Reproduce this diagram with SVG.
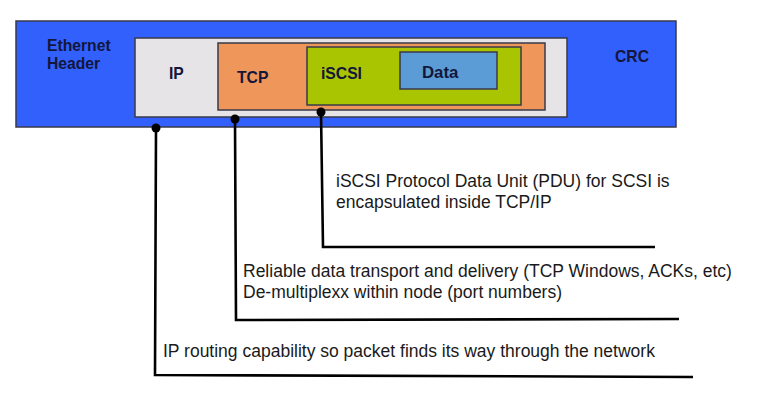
<svg xmlns="http://www.w3.org/2000/svg" width="767" height="413" viewBox="0 0 767 413">
<style>
.box{stroke:#3a3a4a;stroke-width:1.5}
.lbl{font-family:"Liberation Sans",Arial,sans-serif;font-weight:bold;font-size:15.7px;fill:#14163a}
.txt{font-family:"Liberation Sans",Arial,sans-serif;font-size:17.5px;fill:#1a1a1a}
.conn{fill:none;stroke:#000;stroke-width:2.6;stroke-linejoin:miter}
.dot{fill:#000}
</style>
<rect width="767" height="413" fill="#ffffff"/>
<g id="ethernet">
<rect class="box" x="16" y="21" width="660" height="106" fill="#3160fd"/>
<text class="lbl" x="47" y="51">Ethernet</text>
<text class="lbl" x="47" y="69">Header</text>
<text class="lbl" x="615" y="62">CRC</text>
</g>
<g id="ip">
<rect class="box" x="135" y="38" width="432" height="79" fill="#e6e4e6"/>
<text class="lbl" x="169" y="79">IP</text>
</g>
<g id="tcp">
<rect class="box" x="218" y="43" width="327" height="67" fill="#ef975b"/>
<text class="lbl" x="237" y="83">TCP</text>
</g>
<g id="iscsi">
<rect class="box" x="307" y="47" width="214" height="58" fill="#a9c502"/>
<text class="lbl" x="321" y="79">iSCSI</text>
</g>
<g id="data">
<rect class="box" x="400" y="52" width="97" height="37" fill="#5b9bd6"/>
<text class="lbl" x="422" y="78" style="font-size:16.8px">Data</text>
</g>
<g id="connectors">
<circle class="dot" cx="156" cy="128" r="4.5"/>
<polyline class="conn" points="156,128 155,375 693,377"/>
<circle class="dot" cx="235" cy="119" r="4.5"/>
<polyline class="conn" points="235,119 236,320 679,319"/>
<circle class="dot" cx="321" cy="112" r="4.5"/>
<polyline class="conn" points="321,112 323,247 655,247"/>
</g>
<g id="labels">
<text class="txt" x="336" y="187">iSCSI Protocol Data Unit (PDU) for SCSI is</text>
<text class="txt" x="336" y="208">encapsulated inside TCP/IP</text>
<text class="txt" x="243" y="277">Reliable data transport and delivery (TCP Windows, ACKs, etc)</text>
<text class="txt" x="243" y="298">De-multiplexx within node (port numbers)</text>
<text class="txt" x="163" y="357">IP routing capability so packet finds its way through the network</text>
</g>
</svg>
